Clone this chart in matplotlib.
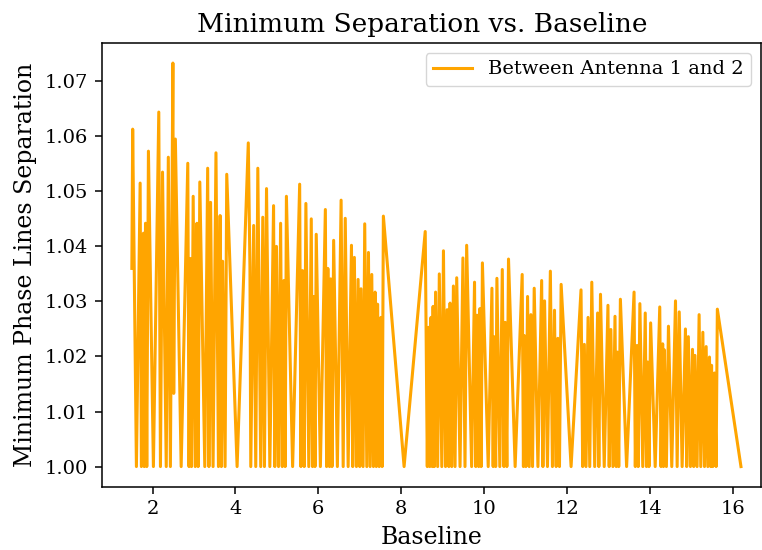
import matplotlib
matplotlib.use('Agg')
import matplotlib.pyplot as plt

plt.rcParams['font.family'] = 'DejaVu Serif'

# baseline vs minimum separation between phase lines (antenna 1 and 2)
baseline = [
    1.50, 1.52, 1.61, 1.70, 1.73, 1.78, 1.80, 1.83, 1.86, 1.90,
    2.02, 2.15, 2.19, 2.24, 2.33, 2.38, 2.43, 2.49, 2.51, 2.55,
    2.69, 2.85, 2.88, 2.91, 2.94, 2.98, 3.03, 3.07, 3.10, 3.14,
    3.26, 3.33, 3.36, 3.40, 3.46, 3.53, 3.59, 3.63, 3.66, 3.69,
    3.75, 3.79, 4.04, 4.31, 4.35, 4.37, 4.44, 4.49, 4.54, 4.61,
    4.66, 4.70, 4.75, 4.83, 4.92, 4.95, 4.99, 5.04, 5.09, 5.13,
    5.17, 5.20, 5.23, 5.38, 5.55, 5.58, 5.62, 5.66, 5.70, 5.77,
    5.83, 5.86, 5.89, 5.92, 5.95, 6.05, 6.17, 6.20, 6.23, 6.27,
    6.30, 6.33, 6.37, 6.46, 6.55, 6.60, 6.65, 6.72, 6.80, 6.83,
    6.87, 6.92, 6.96, 7.00, 7.03, 7.08, 7.12, 7.17, 7.21, 7.25,
    7.29, 7.33, 7.37, 7.40, 7.43, 7.47, 7.51, 7.54, 7.57, 8.07,
    8.58, 8.63, 8.66, 8.69, 8.72, 8.75, 8.77, 8.80, 8.83, 8.88,
    8.92, 8.98, 9.02, 9.07, 9.11, 9.15, 9.18, 9.22, 9.26, 9.30,
    9.34, 9.42, 9.49, 9.54, 9.58, 9.70, 9.77, 9.80, 9.83, 9.87,
    9.90, 9.93, 9.96, 10.10, 10.19, 10.22, 10.24, 10.28, 10.31, 10.38,
    10.44, 10.48, 10.51, 10.55, 10.59, 10.75, 10.92, 10.95, 10.97, 11.01,
    11.05, 11.09, 11.13, 11.17, 11.21, 11.30, 11.39, 11.42, 11.46, 11.53,
    11.60, 11.65, 11.70, 11.74, 11.78, 11.82, 11.86, 12.10, 12.34, 12.38,
    12.42, 12.46, 12.51, 12.55, 12.60, 12.67, 12.74, 12.77, 12.81, 12.90,
    12.99, 13.02, 13.06, 13.11, 13.16, 13.19, 13.22, 13.25, 13.29, 13.44,
    13.62, 13.65, 13.69, 13.72, 13.76, 13.83, 13.89, 13.92, 13.95, 13.98,
    14.02, 14.13, 14.24, 14.27, 14.31, 14.33, 14.35, 14.40, 14.45, 14.53,
    14.62, 14.66, 14.71, 14.78, 14.86, 14.89, 14.93, 14.98, 15.03, 15.06,
    15.09, 15.14, 15.19, 15.23, 15.28, 15.32, 15.36, 15.40, 15.44, 15.47,
    15.49, 15.52, 15.56, 15.60, 15.63, 16.20,
]
separation = [
    1.0360, 1.0613, 1.0000, 1.0515, 1.0000, 1.0424, 1.0000, 1.0442, 1.0000, 1.0573,
    1.0000, 1.0644, 1.0000, 1.0535, 1.0000, 1.0562, 1.0000, 1.0733, 1.0133, 1.0595,
    1.0000, 1.0551, 1.0000, 1.0378, 1.0000, 1.0491, 1.0000, 1.0442, 1.0000, 1.0517,
    1.0000, 1.0542, 1.0000, 1.0480, 1.0000, 1.0570, 1.0000, 1.0456, 1.0000, 1.0373,
    1.0000, 1.0531, 1.0000, 1.0588, 1.0362, 1.0000, 1.0438, 1.0000, 1.0542, 1.0000,
    1.0453, 1.0000, 1.0505, 1.0000, 1.0474, 1.0000, 1.0400, 1.0000, 1.0442, 1.0000,
    1.0338, 1.0000, 1.0491, 1.0000, 1.0513, 1.0000, 1.0356, 1.0000, 1.0478, 1.0000,
    1.0450, 1.0000, 1.0309, 1.0000, 1.0422, 1.0000, 1.0467, 1.0000, 1.0360, 1.0000,
    1.0341, 1.0000, 1.0411, 1.0000, 1.0484, 1.0000, 1.0451, 1.0000, 1.0402, 1.0000,
    1.0380, 1.0000, 1.0340, 1.0000, 1.0323, 1.0000, 1.0441, 1.0000, 1.0389, 1.0000,
    1.0349, 1.0000, 1.0317, 1.0000, 1.0295, 1.0000, 1.0271, 1.0000, 1.0455, 1.0000,
    1.0427, 1.0000, 1.0253, 1.0000, 1.0271, 1.0000, 1.0291, 1.0000, 1.0317, 1.0000,
    1.0350, 1.0000, 1.0392, 1.0000, 1.0285, 1.0000, 1.0297, 1.0000, 1.0328, 1.0000,
    1.0343, 1.0000, 1.0379, 1.0000, 1.0402, 1.0000, 1.0335, 1.0000, 1.0275, 1.0000,
    1.0287, 1.0000, 1.0370, 1.0000, 1.0324, 1.0000, 1.0236, 1.0000, 1.0342, 1.0000,
    1.0358, 1.0000, 1.0262, 1.0000, 1.0377, 1.0000, 1.0349, 1.0000, 1.0238, 1.0000,
    1.0309, 1.0000, 1.0276, 1.0000, 1.0324, 1.0000, 1.0338, 1.0000, 1.0301, 1.0000,
    1.0355, 1.0000, 1.0284, 1.0000, 1.0233, 1.0000, 1.0331, 1.0000, 1.0321, 1.0000,
    1.0222, 1.0000, 1.0271, 1.0000, 1.0335, 1.0000, 1.0279, 1.0000, 1.0313, 1.0000,
    1.0293, 1.0000, 1.0249, 1.0000, 1.0273, 1.0000, 1.0208, 1.0000, 1.0304, 1.0000,
    1.0317, 1.0000, 1.0220, 1.0000, 1.0296, 1.0000, 1.0279, 1.0000, 1.0190, 1.0000,
    1.0261, 1.0000, 1.0290, 1.0000, 1.0223, 1.0000, 1.0212, 1.0000, 1.0255, 1.0000,
    1.0301, 1.0000, 1.0281, 1.0000, 1.0250, 1.0000, 1.0236, 1.0000, 1.0213, 1.0000,
    1.0202, 1.0000, 1.0276, 1.0000, 1.0244, 1.0000, 1.0218, 1.0000, 1.0199, 1.0000,
    1.0184, 1.0000, 1.0170, 1.0000, 1.0286, 1.0000,
]

fig = plt.figure(figsize=(7.62, 5.5), dpi=100)
ax = fig.add_axes([0.1335, 0.115, 0.865, 0.807])

ax.plot(baseline, separation, color='orange', linewidth=2.2, label='Between Antenna 1 and 2')

ax.set_xlim(0.773, 16.68)
ax.set_title('Minimum Separation vs. Baseline', fontsize=19, x=0.487, pad=8)
ax.set_xlabel('Baseline', fontsize=17, labelpad=5.5)
ax.set_ylabel('Minimum Phase Lines Separation', fontsize=17, labelpad=5.5)
ax.tick_params(labelsize=14, length=4.8, width=1.1, pad=4.8)
for s in ax.spines.values():
    s.set_linewidth(1.1)
ax.legend(loc='upper right', fontsize=14)

fig.savefig('out.png', dpi=100)
